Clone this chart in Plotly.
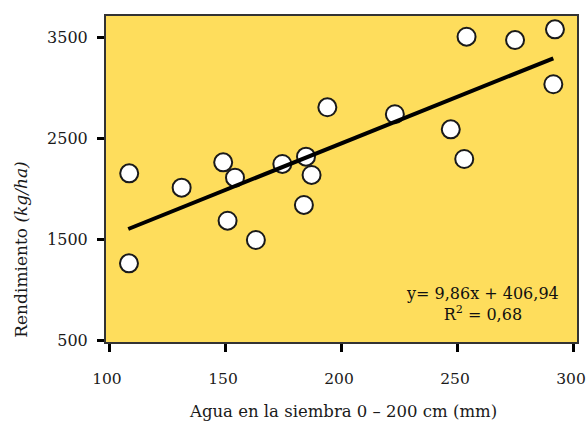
import plotly.graph_objects as go

# Data
agua_mm = [108.3, 108.2, 130.9, 148.8, 150.7, 153.9, 162.9, 174.3, 184.5, 183.6,
           186.9, 193.7, 222.8, 246.9, 252.7, 253.7, 274.6, 291.8, 291.1]
rendimiento = [2155, 1264, 2013, 2264, 1686, 2112, 1495, 2248, 2320, 1842,
               2139, 2809, 2740, 2591, 2297, 3508, 3475, 3581, 3037]

trend_x = [107.9, 291.1]
trend_y = [1604, 3294]

x_ticks = [100, 150, 200, 250, 300]
y_ticks = [500, 1500, 2500, 3500]

eq_text = "y= 9,86x + 406,94<br>R<sup>2</sup> = 0,68"

FONT = "DejaVu Serif"
fig = go.Figure()
fig.add_trace(go.Scatter(
    x=agua_mm, y=rendimiento, mode="markers",
    marker=dict(size=18, color="white", line=dict(color="#1a1a1a", width=2)),
    showlegend=False, hoverinfo="x+y", cliponaxis=False))
fig.add_trace(go.Scatter(
    x=trend_x, y=trend_y, mode="lines",
    line=dict(color="black", width=4), showlegend=False))

fig.update_layout(
    width=586, height=421,
    margin=dict(l=106, r=9, t=16, b=79, autoexpand=False),
    paper_bgcolor="white", plot_bgcolor="#FEDD5C",
    font=dict(family=FONT, size=15, color="#1a1a1a"),
)
fig.update_xaxes(
    range=[98.3, 301.3], tickvals=x_ticks, ticktext=[str(v) for v in x_ticks],
    showgrid=False, zeroline=False, automargin=False,
    showline=True, linecolor="#333333", linewidth=2, mirror=True,
    ticks="outside", ticklen=8, tickwidth=3, tickcolor="black",
    ticklabeloverflow="allow", ticklabelshift=-3,
    ticklabelstandoff=13, tickfont=dict(family=FONT, size=15.5))
fig.update_yaxes(
    range=[485, 3713], tickvals=y_ticks, ticktext=[str(v) for v in y_ticks],
    showgrid=False, zeroline=False, automargin=False,
    showline=True, linecolor="#333333", linewidth=2, mirror=True,
    ticks="outside", ticklen=7, tickwidth=3, tickcolor="black",
    ticklabeloverflow="allow",
    ticklabelstandoff=6, tickfont=dict(family=FONT, size=16))

fig.add_annotation(
    text="Agua en la siembra 0 – 200 cm (mm)", xref="paper", yref="paper",
    x=0.504, y=-0.212, xanchor="center", yanchor="middle", showarrow=False,
    font=dict(family=FONT, size=16.5, color="#1a1a1a"))
fig.add_annotation(
    text="Rendimiento <i>(kg/ha)</i>", xref="paper", yref="paper",
    x=-0.181, y=(342 - 250) / 326, xanchor="center", yanchor="middle",
    textangle=-90, showarrow=False,
    font=dict(family=FONT, size=17, color="#1a1a1a"))
fig.add_annotation(
    text=eq_text, xref="paper", yref="paper",
    x=(482 - 106) / 471, y=(342 - 304) / 326, xanchor="center", yanchor="middle",
    showarrow=False, align="center",
    font=dict(family=FONT, size=16, color="#111111"))

fig.write_html(
    "out.html",
    config={"displayModeBar": False},
    post_script="document.body.style.margin='0';document.body.style.overflow='hidden';")
